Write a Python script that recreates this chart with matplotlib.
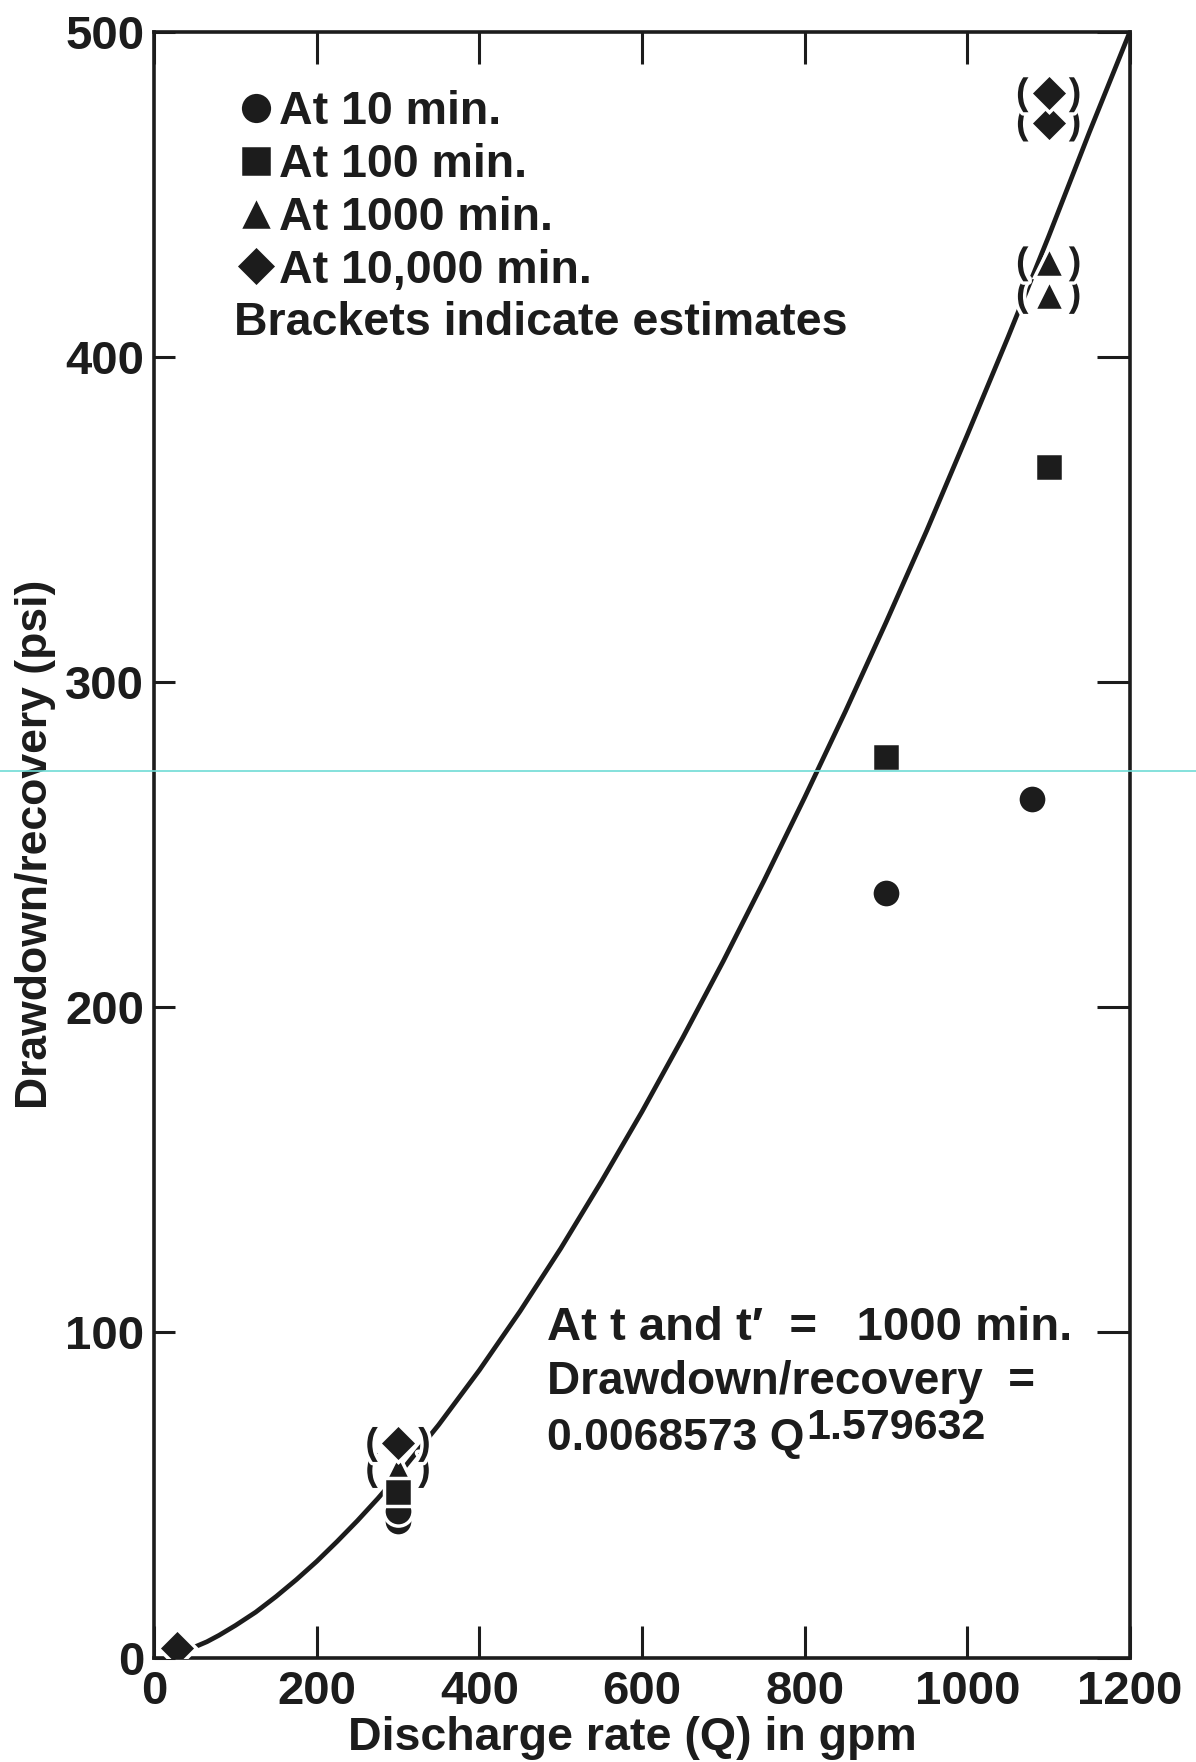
import matplotlib
matplotlib.use("Agg")
import matplotlib.pyplot as plt
import matplotlib.patheffects as pe
from matplotlib.lines import Line2D

# drawdown/recovery (psi) vs discharge rate (gpm)
q_10 = [300, 300, 900, 1079]
dd_10 = [42, 45, 235, 264]

q_100 = [300, 900, 1100]
dd_100 = [51, 277, 366]

q_1000 = [300, 1100, 1100]
dd_1000 = [58, 419, 429]
est_1000 = [True, True, True]

q_10000 = [28, 300, 1100, 1100]
dd_10000 = [3, 66, 472, 481]
est_10000 = [False, True, True, True]

# fitted curve at t = 1000 min
q_fit = [50, 65, 80, 100, 125, 150, 175, 200, 225, 250, 275, 300, 350, 400,
         450, 500, 550, 600, 650, 700, 750, 800, 850, 900, 950, 1000, 1050,
         1100, 1150, 1200]
dd_fit = [3.3, 4.9, 6.9, 9.9, 14.0, 18.8, 24.0, 29.6, 35.7, 42.1, 48.9, 56.1,
          71.6, 88.4, 106.5, 125.8, 146.4, 167.9, 190.6, 214.2, 238.9, 264.5,
          290.9, 318.3, 346.5, 376.0, 406.0, 437.0, 469.0, 500.0]

x_ticks = [0, 200, 400, 600, 800, 1000, 1200]
y_ticks = [0, 100, 200, 300, 400, 500]

ink = "#1c1c1c"
plt.rcParams["font.family"] = ["Liberation Sans", "DejaVu Sans"]
plt.rcParams["font.weight"] = "bold"
plt.rcParams["axes.labelweight"] = "bold"

fig = plt.figure(figsize=(11.96, 17.62), dpi=100)
ax = fig.add_axes([0.1288, 0.0592, 0.816, 0.9229])

ax.plot(q_fit, dd_fit, color=ink, lw=3.4, zorder=2, solid_capstyle="round")

halo = dict(linestyle="none", markeredgecolor="white", markeredgewidth=2.5)
ax.plot(q_10, dd_10, marker="o", ms=21, color=ink, zorder=3, label="At 10 min.", **halo)
ax.plot(q_100, dd_100, marker="s", ms=20, color=ink, zorder=5, label="At 100 min.", **halo)
ax.plot(q_1000, dd_1000, marker="^", ms=22, color=ink, zorder=4, label="At 1000 min.", **halo)
ax.plot(q_10000, dd_10000, marker="D", ms=19, color=ink, zorder=6, label="At 10,000 min.", **halo)

# brackets around estimated values
for qs, ds, flags in [(q_1000, dd_1000, est_1000), (q_10000, dd_10000, est_10000)]:
    for q, d, e in zip(qs, ds, flags):
        if not e:
            continue
        for s, dx in [("(", -19), (")", 19)]:
            ax.annotate(s, (q, d), xytext=(dx, -8), textcoords="offset points",
                        ha="center", va="baseline", fontsize=27, color=ink, zorder=7,
                        path_effects=[pe.withStroke(linewidth=5, foreground="white")])

ax.set_xlim(0, 1200)
ax.set_ylim(0, 500)
ax.set_xticks(x_ticks)
ax.set_yticks(y_ticks)
ax.tick_params(axis="x", direction="in", length=23, width=2.2, color=ink,
               top=True, labelsize=34, labelcolor=ink, pad=9)
ax.tick_params(axis="y", direction="in", length=15, width=2.2, color=ink,
               labelsize=34, labelcolor=ink, pad=7)
sec = ax.secondary_yaxis("right")
sec.set_yticks(y_ticks)
sec.tick_params(direction="in", length=24, width=2.2, color=ink, labelright=False)
for sp in sec.spines.values():
    sp.set_visible(False)
for sp in ax.spines.values():
    sp.set_linewidth(2.6)
    sp.set_color(ink)

ax.set_xlabel("Discharge rate (Q) in gpm", fontsize=33.5, color=ink)
ax.xaxis.set_label_coords(0.49, -0.036)
ax.set_ylabel("Drawdown/recovery (psi)", fontsize=32, color=ink)
ax.yaxis.set_label_coords(-0.100, 0.5)

leg = ax.legend(loc="upper left", bbox_to_anchor=(0.083, 0.964), frameon=False,
                fontsize=33.5, handlelength=0.9, handletextpad=0.05, labelspacing=0.19,
                borderpad=0, borderaxespad=0, markerscale=1.12, labelcolor=ink)
ax.text(0.082, 0.8205, "Brackets indicate estimates", transform=ax.transAxes,
        fontsize=33.5, color=ink, va="center", ha="left")

ax.text(0.403, 0.1955, "At t and t\u2032  =   1000 min.", transform=ax.transAxes,
        fontsize=34, color=ink, va="baseline", ha="left")
ax.text(0.403, 0.1623, "Drawdown/recovery  =", transform=ax.transAxes,
        fontsize=33, color=ink, va="baseline", ha="left")
t3 = ax.text(0.403, 0.1278, "0.0068573 Q", transform=ax.transAxes,
             fontsize=32, color=ink, va="baseline", ha="left")
ax.annotate("1.579632", xy=(1, 0), xycoords=t3, xytext=(1, 14),
            textcoords="offset points", fontsize=31, color=ink,
            va="baseline", ha="left")

# faint cyan scan line across the page
fig.add_artist(Line2D([0, 1], [0.5624, 0.5624], transform=fig.transFigure,
                      color="#6fdcd6", lw=1.2))

fig.savefig("out.png", dpi=100)
